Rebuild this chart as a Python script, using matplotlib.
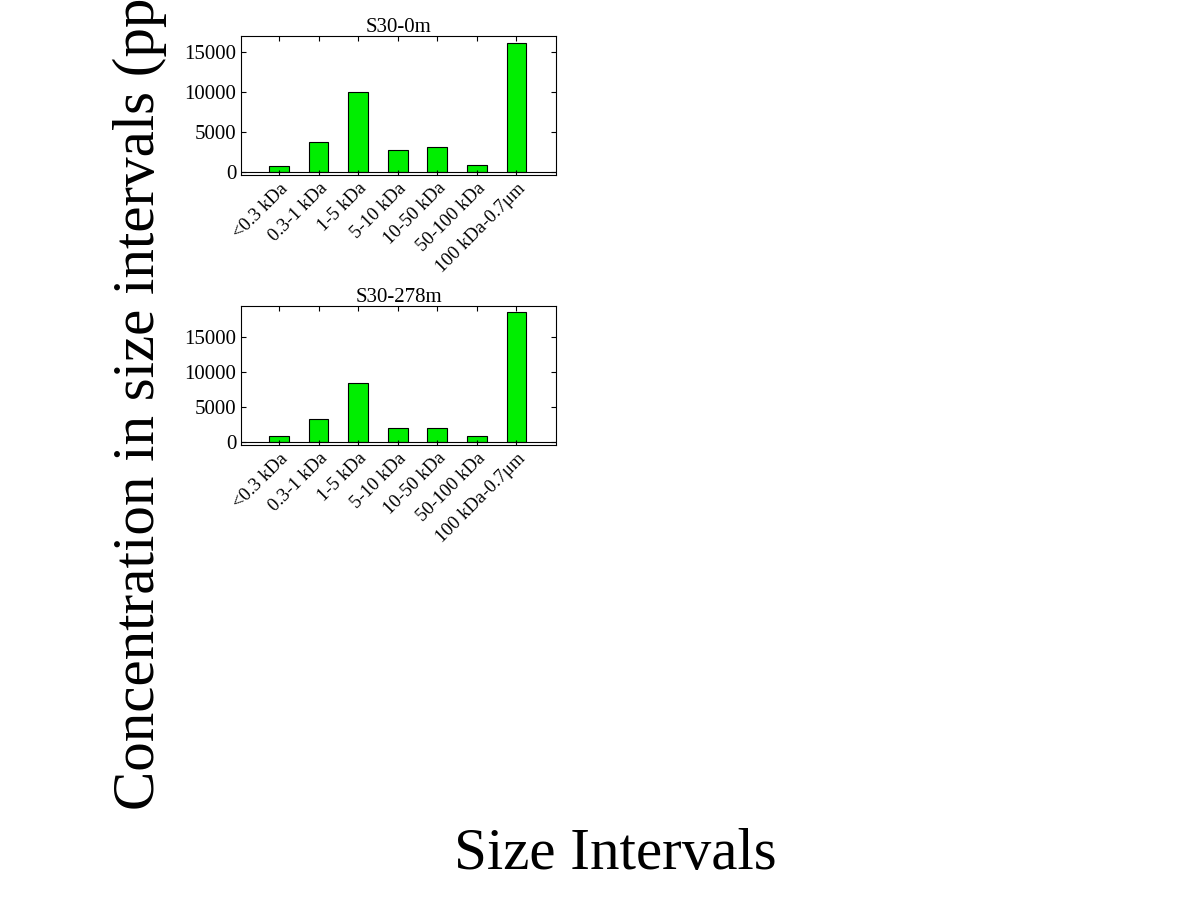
import numpy as np
import matplotlib.pyplot as plt

plt.rcParams['font.family'] = ['Liberation Serif', 'DejaVu Serif']

categories = ['<0.3 kDa', '0.3-1 kDa', '1-5 kDa', '5-10 kDa', '10-50 kDa', '50-100 kDa', '100 kDa-0.7\u03bcm']
s30_0m = [700, 3800, 10000, 2700, 3100, 900, 16100]
s30_278m = [850, 3300, 8400, 2000, 2000, 850, 18600]
panels = [('S30-0m', s30_0m, (-375, 17000)), ('S30-278m', s30_278m, (-430, 19400))]

W, H = 1201, 901
fig = plt.figure(figsize=(W / 100, H / 100), dpi=100)

boxes = [(241, 36, 556, 175), (241, 306, 556, 445)]
x = np.arange(len(categories))
for (title, vals, ylim), (l, t, r, b) in zip(panels, boxes):
    ax = fig.add_axes([l / W, 1 - b / H, (r - l) / W, (b - t) / H])
    ax.bar(x, vals, width=0.5, color='#00ee00', edgecolor='black', linewidth=0.8)
    ax.axhline(0, color='black', linewidth=0.8)
    ax.set_xlim(-0.96, 7.0)
    ax.set_ylim(*ylim)
    ax.set_yticks([0, 5000, 10000, 15000])
    ax.set_xticks(x)
    ax.set_xticklabels(categories, rotation=45, ha='right', rotation_mode='anchor')
    ax.tick_params(direction='in', top=True, right=True, labelsize=15)
    ax.tick_params(axis='x', labelsize=13.5)
    ax.set_title(title, fontsize=15, pad=3)

fig.text(140 / W, 1 - 810 / H, 'Concentration in size intervals (ppb-QSE)', rotation=90,
         ha='center', va='bottom', fontsize=42.5)
fig.text(615 / W, 1 - 855 / H, 'Size Intervals', ha='center', va='center', fontsize=42.5)

fig.savefig('out.png', dpi=100)
